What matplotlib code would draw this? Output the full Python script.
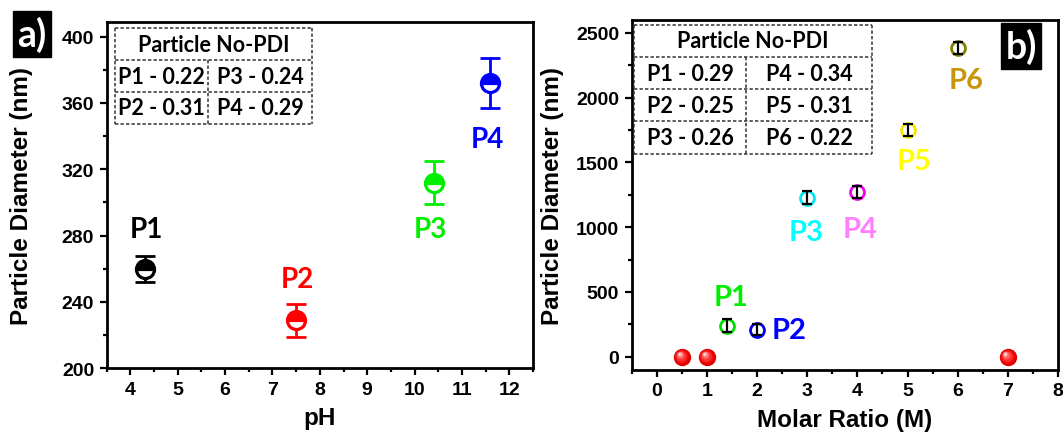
import matplotlib
matplotlib.use("Agg")
import matplotlib.pyplot as plt
from matplotlib.lines import Line2D
from matplotlib.ticker import MultipleLocator
import matplotlib.transforms as mtransforms

# ---- panel a) data ----
ph = [4.3, 7.5, 10.4, 11.6]
diam_a = [260, 229, 312, 372]
err_a = [8, 10, 13, 15]
names_a = ["P1", "P2", "P3", "P4"]
colors_a = ["black", "red", "#00ee00", "blue"]
lab_x_a = [4.33, 7.53, 10.33, 11.54]
lab_y_a = [284, 254, 284, 338]
pdi_a_left = ["P1 - 0.22", "P2 - 0.31"]
pdi_a_right = ["P3 - 0.24", "P4 - 0.29"]

# ---- panel b) data ----
molar = [1.4, 2, 3, 4, 5, 6]
diam_b = [240, 210, 1228, 1272, 1750, 2385]
err_b = [48, 45, 48, 50, 48, 45]
names_b = ["P1", "P2", "P3", "P4", "P5", "P6"]
edge_b = ["#00dd00", "#0000ee", "#00e5ee", "#ee00ee", "#f5e600", "#808000"]
text_b = ["#00ee00", "#0000ff", "#00ffff", "#ff80ff", "#ffff00", "#c8960a"]
lab_x_b = [1.49, 2.63, 2.98, 4.06, 5.12, 6.16]
lab_y_b = [460, 204, 964, 989, 1508, 2140]
zero_x = [0.5, 1, 7]
zero_y = [0, 0, 0]
pdi_b_left = ["P1 - 0.29", "P2 - 0.25", "P3 - 0.26"]
pdi_b_right = ["P4 - 0.34", "P5 - 0.31", "P6 - 0.22"]

TICKFONT = "Liberation Sans"
ANNFONT = "Lato"

fig = plt.figure(figsize=(10.63, 4.35), dpi=100)
axa = fig.add_axes([0.1004, 0.151, 0.401, 0.797])
axb = fig.add_axes([0.5943, 0.1478, 0.401, 0.804])


def style_axes(ax):
    for sp in ax.spines.values():
        sp.set_linewidth(2)
    ax.tick_params(which="both", direction="out", width=1.6, top=False, right=False)
    ax.tick_params(which="major", length=5, pad=4)
    ax.tick_params(which="minor", length=3)
    for lab in ax.get_xticklabels() + ax.get_yticklabels():
        lab.set_fontfamily(TICKFONT)
        lab.set_fontweight("bold")
        lab.set_fontsize(14)


def draw_table(ax, left_col, right_col, x0, x1, xm, y_top, row_h):
    tr = ax.transAxes
    n = len(left_col)
    ys = [y_top - i * row_h for i in range(n + 2)]
    kw = dict(transform=tr, color="#333333", lw=1.1, linestyle=(0, (2.2, 1.4)), zorder=5)
    for y in ys:
        ax.add_line(Line2D([x0, x1], [y, y], **kw))
    ax.add_line(Line2D([x0, x0], [ys[0], ys[-1]], **kw))
    ax.add_line(Line2D([x1, x1], [ys[0], ys[-1]], **kw))
    ax.add_line(Line2D([xm, xm], [ys[1], ys[-1]], **kw))
    tk = dict(transform=tr, ha="center", va="center", fontfamily=ANNFONT,
              fontweight="bold", fontsize=15.5, color="black", zorder=6)
    ax.text((x0 + x1) / 2, (ys[0] + ys[1]) / 2, "Particle No-PDI", **tk)
    for i in range(n):
        yc = (ys[i + 1] + ys[i + 2]) / 2
        ax.text((x0 + xm) / 2, yc, left_col[i], **tk)
        ax.text((xm + x1) / 2, yc, right_col[i], **tk)


# ---------------- panel a ----------------
for x, y, e, c in zip(ph, diam_a, err_a, colors_a):
    axa.errorbar([x], [y], yerr=[e], fmt="none", ecolor=c, elinewidth=2,
                 capsize=7, capthick=2, zorder=2)
    axa.plot([x], [y], "o", ms=13, mew=2.3, mec=c, mfc=c, mfcalt="white",
             fillstyle="top", zorder=3)
for n, x, y, c in zip(names_a, lab_x_a, lab_y_a, colors_a):
    axa.text(x, y, n, color=c, ha="center", va="center", fontfamily=ANNFONT,
             fontweight="bold", fontsize=20)

axa.set_xlim(3.5, 12.5)
axa.set_ylim(200, 409)
axa.xaxis.set_major_locator(MultipleLocator(1))
axa.xaxis.set_minor_locator(MultipleLocator(0.5))
axa.yaxis.set_major_locator(MultipleLocator(40))
axa.yaxis.set_minor_locator(MultipleLocator(20))
axa.set_xlabel("pH", fontfamily=TICKFONT, fontweight="bold", fontsize=17.5)
axa.set_ylabel("Particle Diameter (nm)", fontfamily=TICKFONT, fontweight="bold", fontsize=17.5)
axa.xaxis.set_label_coords(0.5, -0.11)
axa.yaxis.set_label_coords(-0.173, 0.5)
style_axes(axa)
draw_table(axa, pdi_a_left, pdi_a_right, 0.0195, 0.482, 0.238, 0.981, 0.092)

# ---------------- panel b ----------------
for x, y, e, c in zip(molar, diam_b, err_b, edge_b):
    axb.plot([x], [y], "o", ms=10, mew=2, mec=c, mfc="white", zorder=3)
    axb.errorbar([x], [y], yerr=[e], fmt="none", ecolor="black", elinewidth=1.6,
                 capsize=3.5, capthick=1.6, zorder=4)
for n, x, y, c in zip(names_b, lab_x_b, lab_y_b, text_b):
    axb.text(x, y, n, color=c, ha="center", va="center", fontfamily=ANNFONT,
             fontweight="bold", fontsize=21)

# shaded red spheres
axb.plot(zero_x, zero_y, "o", ms=12.5, mew=0, mfc="#e00000", zorder=3)
shades = [(10.0, "#f01010", -0.4), (7.6, "#ff3030", -0.9), (5.4, "#ff6060", -1.3),
          (3.4, "#ff9a9a", -1.7), (1.9, "#ffdede", -2.0)]
for size, col, off in shades:
    tr = mtransforms.offset_copy(axb.transData, fig=fig, x=off, y=-off, units="points")
    axb.plot(zero_x, zero_y, "o", ms=size, mew=0, mfc=col, transform=tr, zorder=3.5)

axb.set_xlim(-0.5, 8)
axb.set_ylim(-100, 2600)
axb.xaxis.set_major_locator(MultipleLocator(1))
axb.xaxis.set_minor_locator(MultipleLocator(0.5))
axb.yaxis.set_major_locator(MultipleLocator(500))
axb.yaxis.set_minor_locator(MultipleLocator(250))
axb.set_xlabel("Molar Ratio (M)", fontfamily=TICKFONT, fontweight="bold", fontsize=17.5)
axb.set_ylabel("Particle Diameter (nm)", fontfamily=TICKFONT, fontweight="bold", fontsize=17.5)
axb.xaxis.set_label_coords(0.5, -0.11)
axb.yaxis.set_label_coords(-0.159, 0.5)
style_axes(axb)
draw_table(axb, pdi_b_left, pdi_b_right, 0.006, 0.564, 0.268, 0.986, 0.092)

# panel letters
fig.text(32 / 1063, 1 - 35 / 435, "a)", color="white", ha="center", va="center",
         fontfamily=ANNFONT, fontweight="bold", fontsize=27,
         bbox=dict(boxstyle="square,pad=0.12", fc="black", ec="black"))
fig.text(1021 / 1063, 1 - 47 / 435, "b)", color="white", ha="center", va="center",
         fontfamily=ANNFONT, fontweight="bold", fontsize=27,
         bbox=dict(boxstyle="square,pad=0.12", fc="black", ec="black"))

fig.savefig("out.png", dpi=100)
